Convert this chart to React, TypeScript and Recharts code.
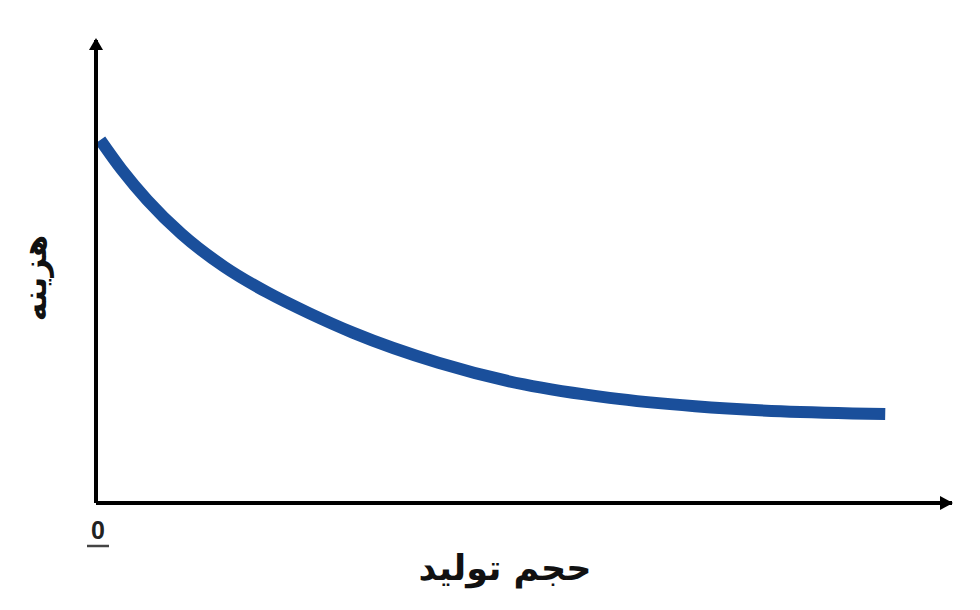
import React from "react";
import { LineChart, Line, XAxis, YAxis, ReferenceDot } from "recharts";

// production volume (x) vs cost (y)
const volume = [0.5, 3, 6, 10, 15, 20, 25, 30, 40, 50, 60, 70, 80, 92.2];
const cost = [78.4, 72.0, 65.4, 58.1, 51.0, 45.5, 40.9, 36.8, 30.3, 25.6, 22.7, 20.9, 19.8, 19.2];

const xTicks = [0];
const xMax = 100;
const yMax = 100;

const xTitle = "حجم تولید";
const yTitle = "هزینه";

const CURVE = "#1a4f9b";
const AXIS = "#000000";

const data = volume.map((v, i) => ({ v, c: cost[i] }));

// arrow heads for the two axes
const ArrowRight = (props: any) => {
  const { cx, cy } = props;
  return <path d={`M${cx + 1},${cy} L${cx - 12},${cy - 7} L${cx - 12},${cy + 7} Z`} fill={AXIS} />;
};

const ArrowUp = (props: any) => {
  const { cx, cy } = props;
  return <path d={`M${cx},${cy - 2} L${cx - 7},${cy + 10} L${cx + 7},${cy + 10} Z`} fill={AXIS} />;
};

const ZeroTick = (props: any) => {
  const { x, y, payload } = props;
  return (
    <g>
      <text
        x={x + 2}
        y={y + 28}
        textAnchor="middle"
        fontFamily="Liberation Sans, Arial, sans-serif"
        fontWeight="bold"
        fontSize={25}
        fill="#222"
      >
        {payload.value}
      </text>
      <line x1={x - 9} x2={x + 13} y1={y + 35} y2={y + 35} stroke="#444" strokeWidth={2.5} />
    </g>
  );
};

export default function App() {
  return (
    <div style={{ position: "absolute", left: 0, top: 0, width: 980, height: 610, background: "#fff" }}>
      <LineChart
        width={980}
        height={610}
        data={data}
        margin={{ top: 40, right: 28, bottom: 77, left: 95 }}
      >
        <XAxis
          type="number"
          dataKey="v"
          domain={[0, xMax]}
          ticks={xTicks}
          tickLine={false}
          height={30}
          axisLine={{ stroke: AXIS, strokeWidth: 4 }}
          tick={<ZeroTick />}
          interval={0}
        />
        <YAxis
          type="number"
          domain={[0, yMax]}
          width={1}
          tick={false}
          tickLine={false}
          axisLine={{ stroke: AXIS, strokeWidth: 4 }}
        />
        <Line
          type="monotone"
          dataKey="c"
          stroke={CURVE}
          strokeWidth={12}
          strokeLinecap="butt"
          dot={false}
          activeDot={false}
          isAnimationActive={false}
        />
        <ReferenceDot x={xMax} y={0} ifOverflow="visible" shape={<ArrowRight />} />
        <ReferenceDot x={0} y={yMax} ifOverflow="visible" shape={<ArrowUp />} />
      </LineChart>
      <div
        style={{
          position: "absolute",
          left: 505,
          top: 568,
          transform: "translate(-50%, -50%)",
          fontFamily: "DejaVu Sans, sans-serif",
          fontWeight: "bold",
          fontSize: 35,
          direction: "rtl",
          whiteSpace: "nowrap",
          color: "#111",
        }}
      >
        {xTitle}
      </div>
      <div
        style={{
          position: "absolute",
          left: 35,
          top: 278,
          transform: "translate(-50%, -50%) rotate(-90deg)",
          fontFamily: "DejaVu Sans, sans-serif",
          fontWeight: "bold",
          fontSize: 32,
          direction: "rtl",
          whiteSpace: "nowrap",
          color: "#111",
        }}
      >
        {yTitle}
      </div>
    </div>
  );
}
